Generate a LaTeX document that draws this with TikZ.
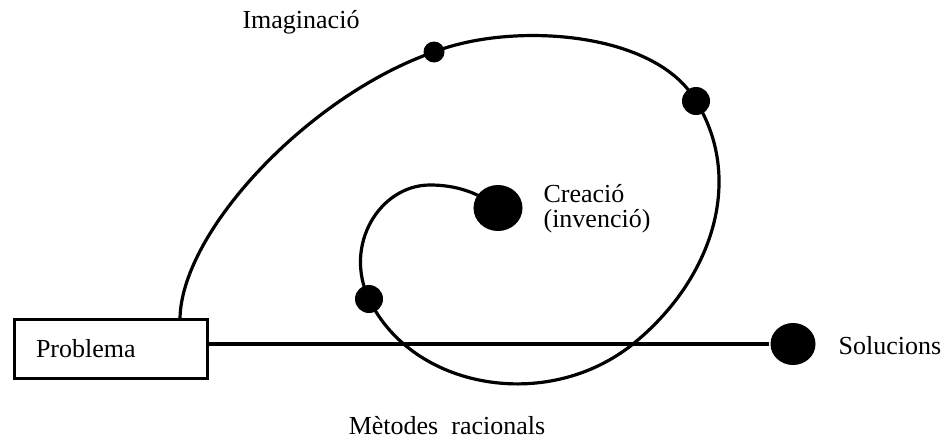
\documentclass[tikz,border=0pt]{standalone}
\usepackage{fontspec}
\setmainfont{Liberation Serif}
\usetikzlibrary{shapes.geometric}

\tikzset{
  dot/.style={circle, fill=black, inner sep=0pt, minimum size=#1},
  bigdot/.style={ellipse, fill=black, inner sep=0pt, minimum width=#1, minimum height=#1-1.5pt},
  lbl/.style={font=\fontsize{13}{12.5}\selectfont, inner sep=0pt}
}

\begin{document}
\begin{tikzpicture}[x=0.5pt, y=-0.5pt, line width=1.6pt]
        \useasboundingbox (0,0) rectangle (946,439);
        \node[draw, rectangle, minimum width=96.4pt, minimum height=29.4pt, text width=75pt,
              align=left, inner xsep=10.7pt, font=\fontsize{13}{15}\selectfont] (prob) at (111,349) {Problema};
        \node[dot=10.5pt] (d1) at (434,52) {};
        \node[dot=14pt] (d2) at (696,101) {};
        \node[dot=14pt] (d3) at (369,299) {};
        \node[bigdot=24.5pt] (cre) at (498,208) {};
        \node[bigdot=22.5pt] (sol) at (793,344) {};
        \coordinate (lift) at (180,0);
        \coordinate (cr1) at (633,344);
        \coordinate (top) at (430,185);
        % the spiral from the problem into the creation
        \draw (lift |- prob.north) .. controls (182,230) and (310,95) .. (d1.center)
              .. controls (510,22) and (655,30) .. (d2.center)
              .. controls (745,180) and (712,280) .. (cr1)
              .. controls (547,413) and (412,389) .. (d3.center)
              .. controls (343,245) and (380,185) .. (top)
              .. controls (455,185) and (478,192) .. (cre.center);
        \draw (prob.east |- sol) -- (sol);
        \node[lbl] (imag) at (301,22) {Imaginació};
        \node[lbl, anchor=west, align=left] (creat) at (542,209) {Creació\\(invenció)};
        \node[lbl, anchor=west] (solt) at (837,346) {Solucions};
        \node[lbl] (met) at (447,426) {Mètodes\ \ racionals};
    \end{tikzpicture}
\end{document}
